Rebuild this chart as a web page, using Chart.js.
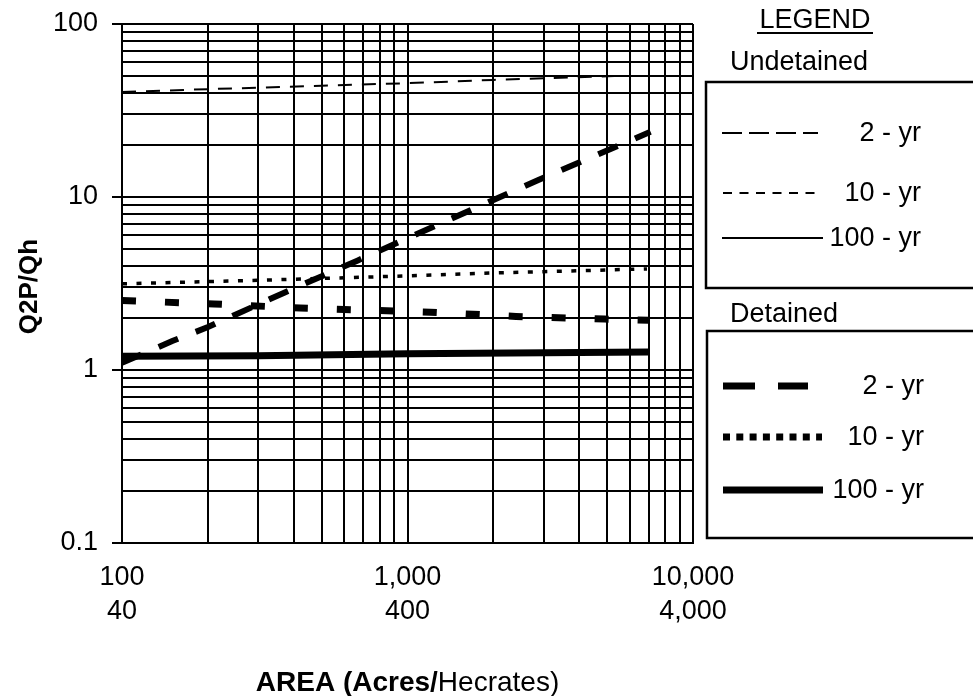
<!DOCTYPE html>
<html>
<head>
<meta charset="utf-8">
<script src="https://cdn.jsdelivr.net/npm/chart.js@4.4.0/dist/chart.umd.min.js"></script>
<style>
  html, body { margin: 0; padding: 0; background: #fff; }
  #wrap { position: relative; width: 973px; height: 696px; }
</style>
</head>
<body>
<div id="wrap"><canvas id="chart" width="973" height="696"></canvas></div>
<script>
// ===== DATA: drainage area (acres) vs. Q2P/Qh =====
const upperArea  = [100, 200, 500, 1000, 2000, 5300];
const upperRatio = [40.5, 42, 44, 45.5, 47.5, 50];

const steepArea  = [100, 150, 200, 370, 670, 2860, 7100];
const steepRatio = [1.1, 1.47, 1.77, 2.8, 4.3, 12.5, 23.8];

const dottedArea  = [100, 300, 1000, 2000, 6900];
const dottedRatio = [3.15, 3.3, 3.5, 3.64, 3.84];

const blockArea  = [100, 210, 420, 1200, 2400, 4900, 7000];
const blockRatio = [2.52, 2.41, 2.28, 2.16, 2.04, 1.97, 1.94];

const solidArea  = [100, 300, 1000, 7000];
const solidRatio = [1.2, 1.21, 1.24, 1.27];

// tick labels: acres on the first line, hectares below
const xTickValues = [100, 1000, 10000];
const xTickAcres = ['100', '1,000', '10,000'];
const xTickHectares = ['40', '400', '4,000'];
const yTickValues = [0.1, 1, 10, 100];
const yTickLabels = ['0.1', '1', '10', '100'];

const legendUndetained = ['2 - yr', '10 - yr', '100 - yr'];
const legendDetained = ['2 - yr', '10 - yr', '100 - yr'];

const FONT = "'Liberation Sans', Arial, sans-serif";

const pts = (xs, ys) => xs.map((x, i) => ({ x, y: ys[i] }));

// every 1..9 step inside each decade, for the log-paper grid
function logGrid(min, max) {
  const out = [];
  for (let d = min; d < max; d *= 10) {
    for (let k = 1; k < 10; k++) out.push(+(d * k).toPrecision(3));
  }
  out.push(max);
  return out;
}
const isDecade = v => Math.abs(Math.log10(v) - Math.round(Math.log10(v))) < 1e-6;

function line(label, data, width, dash) {
  return {
    label, data, borderColor: '#000', borderWidth: width, borderDash: dash,
    borderCapStyle: 'butt', pointRadius: 0, tension: 0, fill: false
  };
}

// legend boxes + axis titles drawn on top of the chart
const decorations = {
  id: 'decorations',
  afterDraw(chart) {
    const ctx = chart.ctx;
    const ca = chart.chartArea;
    ctx.save();
    ctx.fillStyle = '#000';
    ctx.strokeStyle = '#000';

    // y title
    ctx.save();
    ctx.translate(30, (ca.top + ca.bottom) / 2 + 3);
    ctx.rotate(-Math.PI / 2);
    ctx.font = 'bold 26px ' + FONT;
    ctx.textAlign = 'center';
    ctx.textBaseline = 'middle';
    ctx.fillText('Q2P/Qh', 0, 0);
    ctx.restore();

    // x title, bold part + plain part
    ctx.textBaseline = 'middle';
    ctx.textAlign = 'left';
    const boldPart = 'AREA (Acres/', plainPart = 'Hecrates)';
    ctx.font = 'bold 28px ' + FONT;
    const wb = ctx.measureText(boldPart).width;
    ctx.font = '28px ' + FONT;
    const wp = ctx.measureText(plainPart).width;
    const x0 = (ca.left + ca.right) / 2 - (wb + wp) / 2;
    ctx.font = 'bold 28px ' + FONT;
    ctx.fillText(boldPart, x0, 683);
    ctx.font = '28px ' + FONT;
    ctx.fillText(plainPart, x0 + wb, 683);

    // legend heading
    ctx.font = '27px ' + FONT;
    ctx.textAlign = 'center';
    ctx.fillText('LEGEND', 815, 21);
    ctx.lineWidth = 2;
    ctx.beginPath(); ctx.moveTo(757, 33); ctx.lineTo(873, 33); ctx.stroke();

    ctx.textAlign = 'left';
    ctx.fillText('Undetained', 730, 63);
    ctx.fillText('Detained', 730, 315);

    ctx.lineWidth = 2.5;
    ctx.strokeRect(706, 82, 300, 206);
    ctx.strokeRect(707, 331, 300, 207);

    const sample = (y, x1, x2, width, dash) => {
      ctx.lineWidth = width;
      ctx.lineCap = 'butt';
      ctx.setLineDash(dash);
      ctx.beginPath(); ctx.moveTo(x1, y); ctx.lineTo(x2, y); ctx.stroke();
      ctx.setLineDash([]);
    };

    const rowsU = [133, 193, 238];
    sample(rowsU[0], 722, 818, 2, [20, 7]);
    sample(rowsU[1], 723, 818, 2, [9, 7.5]);
    sample(rowsU[2], 722, 823, 2, []);
    const rowsD = [386, 437, 490];
    sample(rowsD[0], 723, 808, 7, [32, 23]);
    sample(rowsD[1], 723, 822, 7, [7, 6.3]);
    sample(rowsD[2], 723, 823, 7, []);

    ctx.font = '27px ' + FONT;
    ctx.textAlign = 'right';
    legendUndetained.forEach((t, i) => ctx.fillText(t, 921, rowsU[i] + 1));
    legendDetained.forEach((t, i) => ctx.fillText(t, 924, rowsD[i] + 1));
    ctx.restore();
  }
};

new Chart(document.getElementById('chart'), {
  type: 'line',
  data: {
    datasets: [
      line('Undetained 2 - yr', pts(upperArea, upperRatio), 2, [14, 10]),
      line('Steep 2 - yr', pts(steepArea, steepRatio), 6, [21, 19]),
      line('10 - yr', pts(dottedArea, dottedRatio), 3.5, [5, 9.5]),
      line('Detained 2 - yr', pts(blockArea, blockRatio), 7, [14, 29]),
      line('Detained 100 - yr', pts(solidArea, solidRatio), 7, [])
    ]
  },
  options: {
    responsive: false,
    animation: false,
    layout: { padding: { top: 24, right: 280, bottom: 0, left: 0 } },
    plugins: { legend: { display: false }, tooltip: { enabled: false } },
    scales: {
      x: {
        type: 'logarithmic', min: 100, max: 10000,
        afterBuildTicks: s => { s.ticks = logGrid(100, 10000).map(v => ({ value: v })); },
        afterFit: s => { s.height = 153; s.paddingLeft = 0; s.paddingRight = 0; },
        grid: { color: '#000', lineWidth: 2, drawTicks: false },
        border: { color: '#000', width: 2 },
        ticks: {
          autoSkip: false, maxRotation: 0, padding: 18, color: '#000',
          font: { family: FONT, size: 27, lineHeight: 1.26 },
          callback: v => {
            const i = xTickValues.findIndex(t => Math.abs(t - v) < 1e-6);
            return i < 0 ? '' : [xTickAcres[i], xTickHectares[i]];
          }
        }
      },
      y: {
        type: 'logarithmic', min: 0.1, max: 100,
        afterBuildTicks: s => { s.ticks = logGrid(0.1, 100).map(v => ({ value: v })); },
        afterFit: s => { s.width = 122; s.paddingTop = 0; s.paddingBottom = 0; },
        grid: {
          color: '#000', lineWidth: 2, tickLength: 10, tickWidth: 2,
          tickColor: c => (c.tick && isDecade(c.tick.value)) ? '#000' : 'rgba(0,0,0,0)'
        },
        border: { color: '#000', width: 2 },
        ticks: {
          autoSkip: false, padding: 14, color: '#000',
          font: { family: FONT, size: 27 },
          callback: v => {
            const i = yTickValues.findIndex(t => Math.abs(t - v) < 1e-9);
            return i < 0 ? '' : yTickLabels[i];
          }
        }
      }
    }
  },
  plugins: [decorations]
});
</script>
</body>
</html>
